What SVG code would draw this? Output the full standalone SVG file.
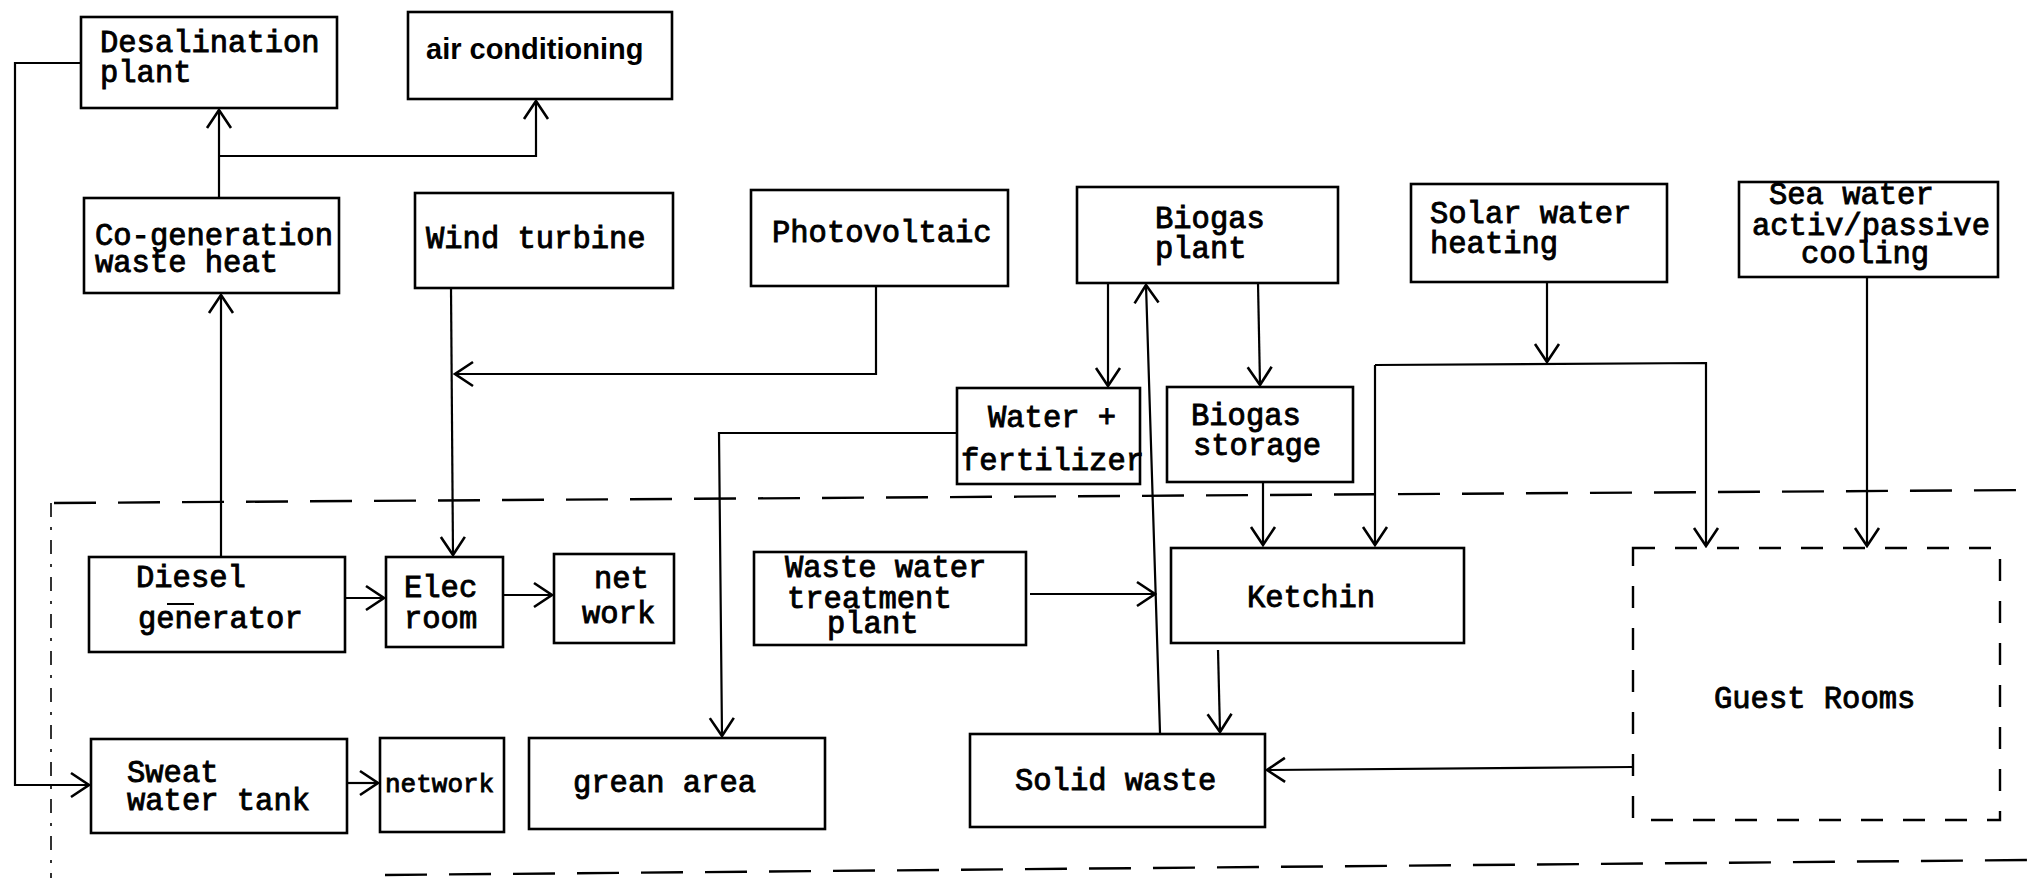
<svg xmlns="http://www.w3.org/2000/svg" width="2028" height="878" viewBox="0 0 2028 878">
<defs>
<style>
.box{fill:#fff;stroke:#000;stroke-width:2.6}
.dbox{fill:none;stroke:#000;stroke-width:2.4;stroke-dasharray:22 20}
.t{font-family:"Liberation Mono","DejaVu Sans Mono",monospace;font-size:30.5px;fill:#000;stroke:#000;stroke-width:0.9}
.ts{font-family:"Liberation Sans",Arial,sans-serif;font-size:29px;font-weight:bold;fill:#000}
.c{fill:none;stroke:#000;stroke-width:2.2}
.reg{fill:none;stroke:#000;stroke-width:2.4;stroke-dasharray:42 22}
.regl{fill:none;stroke:#000;stroke-width:1.6;stroke-dasharray:14 10 3 10}
</style>
<marker id="arr" viewBox="-20 -16 22 32" refX="0" refY="0" markerWidth="22" markerHeight="32" markerUnits="userSpaceOnUse" orient="auto">
<path d="M-18,-12 L0,0 L-18,12" fill="none" stroke="#000" stroke-width="2.6"/>
</marker>
</defs>
<rect width="2028" height="878" fill="#fff"/>

<g id="region">
<path class="reg" d="M54,503 L2028,490"/>
<path class="regl" d="M51,503 L51,878"/>
<path class="reg" d="M385,875 L2028,860"/>
</g>

<g id="connectors">
<path class="c" d="M219,198 L219,110" marker-end="url(#arr)"/>
<path class="c" d="M219,156 L536,156 L536,101" marker-end="url(#arr)"/>
<path class="c" d="M221,557 L221,295" marker-end="url(#arr)"/>
<path class="c" d="M81,63 L15,63 L15,785 L89,785" marker-end="url(#arr)"/>
<path class="c" d="M451,288 L453,555" marker-end="url(#arr)"/>
<path class="c" d="M876,286 L876,374 L455,374" marker-end="url(#arr)"/>
<path class="c" d="M345,598 L384,598" marker-end="url(#arr)"/>
<path class="c" d="M503,595 L552,595" marker-end="url(#arr)"/>
<path class="c" d="M347,783 L378,783" marker-end="url(#arr)"/>
<path class="c" d="M1108,283 L1108,386" marker-end="url(#arr)"/>
<path class="c" d="M1160,733 L1146,285" marker-end="url(#arr)"/>
<path class="c" d="M1258,283 L1260,385" marker-end="url(#arr)"/>
<path class="c" d="M957,433 L719,433 L722,736" marker-end="url(#arr)"/>
<path class="c" d="M1263,482 L1263,545" marker-end="url(#arr)"/>
<path class="c" d="M1030,594 L1155,594" marker-end="url(#arr)"/>
<path class="c" d="M1547,282 L1547,362" marker-end="url(#arr)"/>
<path class="c" d="M1375,365 L1706,363 L1706,546" marker-end="url(#arr)"/>
<path class="c" d="M1375,365 L1375,545" marker-end="url(#arr)"/>
<path class="c" d="M1867,277 L1867,546" marker-end="url(#arr)"/>
<path class="c" d="M1218,650 L1220,732" marker-end="url(#arr)"/>
<path class="c" d="M1633,767 L1267,770" marker-end="url(#arr)"/>
</g>

<g id="desalination">
<rect class="box" x="81" y="17" width="256" height="91"/>
<text class="t" x="100" y="52">Desalination</text>
<text class="t" x="100" y="82">plant</text>
</g>
<g id="air-conditioning">
<rect class="box" x="408" y="12" width="264" height="87"/>
<text class="ts" x="426" y="59">air conditioning</text>
</g>
<g id="cogeneration">
<rect class="box" x="84" y="198" width="255" height="95"/>
<text class="t" x="95" y="245">Co-generation</text>
<text class="t" x="95" y="272">waste heat</text>
</g>
<g id="wind-turbine">
<rect class="box" x="415" y="193" width="258" height="95"/>
<text class="t" x="426" y="248">Wind turbine</text>
</g>
<g id="photovoltaic">
<rect class="box" x="751" y="190" width="257" height="96"/>
<text class="t" x="772" y="242">Photovoltaic</text>
</g>
<g id="biogas-plant">
<rect class="box" x="1077" y="187" width="261" height="96"/>
<text class="t" x="1155" y="228">Biogas</text>
<text class="t" x="1155" y="258">plant</text>
</g>
<g id="solar-water-heating">
<rect class="box" x="1411" y="184" width="256" height="98"/>
<text class="t" x="1430" y="223">Solar water</text>
<text class="t" x="1430" y="253">heating</text>
</g>
<g id="sea-water">
<rect class="box" x="1739" y="182" width="259" height="95"/>
<text class="t" x="1769" y="204">Sea water</text>
<text class="t" x="1752" y="235">activ/passive</text>
<text class="t" x="1801" y="263">cooling</text>
</g>
<g id="water-fertilizer">
<rect class="box" x="957" y="388" width="183" height="96"/>
<text class="t" x="988" y="427">Water +</text>
<text class="t" x="961" y="470">fertilizer</text>
</g>
<g id="biogas-storage">
<rect class="box" x="1167" y="387" width="186" height="95"/>
<text class="t" x="1191" y="425">Biogas</text>
<text class="t" x="1193" y="455">storage</text>
</g>
<g id="diesel-generator">
<rect class="box" x="89" y="557" width="256" height="95"/>
<text class="t" x="136" y="587">Diesel</text>
<line x1="167" y1="604" x2="194" y2="604" stroke="#000" stroke-width="2"/>
<text class="t" x="138" y="628">generator</text>
</g>
<g id="elec-room">
<rect class="box" x="386" y="557" width="117" height="90"/>
<text class="t" x="404" y="597">Elec</text>
<text class="t" x="404" y="628">room</text>
</g>
<g id="net-work">
<rect class="box" x="554" y="554" width="120" height="89"/>
<text class="t" x="594" y="588">net</text>
<text class="t" x="582" y="623">work</text>
</g>
<g id="waste-water">
<rect class="box" x="754" y="552" width="272" height="93"/>
<text class="t" x="785" y="577">Waste water</text>
<text class="t" x="787" y="608">treatment</text>
<text class="t" x="827" y="633">plant</text>
</g>
<g id="ketchin">
<rect class="box" x="1171" y="548" width="293" height="95"/>
<text class="t" x="1247" y="607">Ketchin</text>
</g>
<g id="guest-rooms">
<rect class="dbox" x="1633" y="548" width="367" height="272"/>
<text class="t" x="1714" y="708">Guest Rooms</text>
</g>
<g id="sweat-water-tank">
<rect class="box" x="91" y="739" width="256" height="94"/>
<text class="t" x="127" y="782">Sweat</text>
<text class="t" x="127" y="810">water tank</text>
</g>
<g id="network">
<rect class="box" x="380" y="738" width="124" height="94"/>
<text class="t" x="385" y="792" style="font-size:26px">network</text>
</g>
<g id="grean-area">
<rect class="box" x="529" y="738" width="296" height="91"/>
<text class="t" x="573" y="792">grean area</text>
</g>
<g id="solid-waste">
<rect class="box" x="970" y="734" width="295" height="93"/>
<text class="t" x="1015" y="790">Solid waste</text>
</g>
</svg>
